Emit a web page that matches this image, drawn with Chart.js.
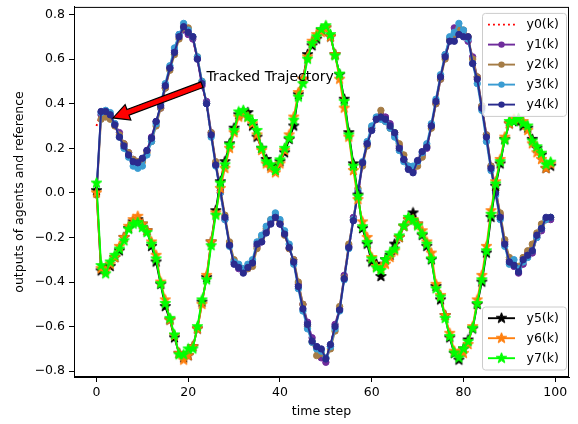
<!DOCTYPE html>
<html>
<head>
<meta charset="utf-8">
<script src="https://cdn.jsdelivr.net/npm/chart.js@4.4.1/dist/chart.umd.min.js"></script>
<style>
  html, body { margin: 0; padding: 0; background: #fff; }
  canvas { display: block; }
</style>
</head>
<body>
<canvas id="outputs" width="578" height="424"></canvas>
<script>
// time steps k = 0..99
const steps = Array.from({ length: 100 }, (_, k) => k);

// reference trajectory
const y0 = [
  0.30, 0.36, 0.36, 0.34, 0.30, 0.25, 0.21, 0.17, 0.14, 0.13, 0.15, 0.19, 0.24, 0.31, 0.39, 0.48, 0.56, 0.64, 0.70, 0.75, 0.73, 0.69, 0.60, 0.49, 0.39, 0.26, 0.13, 0.01,
  -0.11, -0.23, -0.31, -0.34, -0.35, -0.33, -0.31, -0.24, -0.21, -0.17, -0.13, -0.11, -0.13, -0.18, -0.24, -0.31, -0.42, -0.51, -0.59, -0.66, -0.70, -0.72, -0.74, -0.68, -0.60, -0.52, -0.39, -0.25, -0.12,
  0.00, 0.13, 0.22, 0.28, 0.32, 0.34, 0.33, 0.30, 0.26, 0.20, 0.15, 0.11, 0.10, 0.13, 0.17, 0.21, 0.30, 0.41, 0.52, 0.61, 0.68, 0.71, 0.73, 0.71, 0.69, 0.59, 0.50, 0.38, 0.25, 0.11,
  0.00, -0.11, -0.23, -0.31, -0.33, -0.35, -0.31, -0.28, -0.25, -0.19, -0.16, -0.12, -0.11
];

// agents of the first group
const y1 = [
  0.00, 0.35, 0.35, 0.34, 0.31, 0.27, 0.22, 0.18, 0.15, 0.13, 0.15, 0.19, 0.25, 0.32, 0.38, 0.47, 0.56, 0.64, 0.71, 0.73, 0.71, 0.69, 0.60, 0.48, 0.41, 0.27, 0.13, 0.00,
  -0.12, -0.23, -0.31, -0.34, -0.35, -0.34, -0.31, -0.24, -0.22, -0.17, -0.13, -0.10, -0.14, -0.18, -0.25, -0.30, -0.41, -0.50, -0.58, -0.65, -0.69, -0.74, -0.76, -0.69, -0.59, -0.52, -0.37, -0.24, -0.11,
  -0.01, 0.13, 0.22, 0.29, 0.33, 0.35, 0.34, 0.31, 0.26, 0.21, 0.15, 0.11, 0.10, 0.14, 0.17, 0.20, 0.30, 0.40, 0.51, 0.62, 0.69, 0.74, 0.72, 0.71, 0.68, 0.61, 0.52, 0.39, 0.26, 0.12,
  0.02, -0.10, -0.22, -0.30, -0.33, -0.36, -0.32, -0.27, -0.27, -0.20, -0.17, -0.12, -0.12
];
const y2 = [
  -0.01, 0.33, 0.34, 0.33, 0.30, 0.26, 0.22, 0.18, 0.15, 0.14, 0.14, 0.18, 0.23, 0.30, 0.38, 0.47, 0.55, 0.62, 0.69, 0.74, 0.74, 0.70, 0.61, 0.50, 0.40, 0.27, 0.14, 0.02,
  -0.10, -0.22, -0.30, -0.33, -0.34, -0.34, -0.33, -0.25, -0.20, -0.16, -0.12, -0.11, -0.13, -0.19, -0.25, -0.30, -0.40, -0.50, -0.60, -0.67, -0.73, -0.72, -0.74, -0.70, -0.62, -0.51, -0.38, -0.23, -0.12,
  0.02, 0.12, 0.21, 0.29, 0.33, 0.37, 0.32, 0.29, 0.27, 0.22, 0.17, 0.12, 0.11, 0.12, 0.16, 0.21, 0.29, 0.40, 0.51, 0.60, 0.69, 0.71, 0.74, 0.73, 0.70, 0.60, 0.52, 0.39, 0.26, 0.12,
  0.01, -0.09, -0.21, -0.29, -0.32, -0.33, -0.29, -0.26, -0.23, -0.18, -0.14, -0.12, -0.11
];
const y3 = [
  0.01, 0.36, 0.37, 0.36, 0.31, 0.25, 0.20, 0.16, 0.12, 0.11, 0.12, 0.17, 0.23, 0.31, 0.40, 0.49, 0.57, 0.65, 0.71, 0.76, 0.73, 0.70, 0.61, 0.50, 0.40, 0.25, 0.12, 0.00,
  -0.12, -0.24, -0.31, -0.32, -0.34, -0.32, -0.30, -0.22, -0.19, -0.15, -0.12, -0.09, -0.12, -0.17, -0.23, -0.32, -0.43, -0.53, -0.61, -0.67, -0.70, -0.71, -0.74, -0.69, -0.61, -0.53, -0.39, -0.25, -0.12,
  0.01, 0.14, 0.23, 0.30, 0.34, 0.33, 0.32, 0.29, 0.25, 0.19, 0.14, 0.12, 0.12, 0.14, 0.18, 0.22, 0.31, 0.42, 0.53, 0.62, 0.70, 0.72, 0.76, 0.73, 0.69, 0.58, 0.49, 0.37, 0.23, 0.10,
  -0.01, -0.12, -0.24, -0.32, -0.30, -0.34, -0.31, -0.29, -0.26, -0.20, -0.16, -0.12, -0.11
];
const y4 = [
  0.00, 0.365, 0.365, 0.35, 0.305, 0.25, 0.21, 0.17, 0.14, 0.135, 0.155, 0.19, 0.245, 0.32, 0.39, 0.48, 0.56, 0.63, 0.70, 0.745, 0.72, 0.70, 0.60, 0.49, 0.40, 0.26, 0.125, 0.01,
  -0.11, -0.235, -0.32, -0.335, -0.36, -0.335, -0.315, -0.23, -0.22, -0.18, -0.14, -0.11, -0.14, -0.185, -0.245, -0.31, -0.42, -0.52, -0.59, -0.665, -0.69, -0.70, -0.745, -0.68, -0.60, -0.525, -0.385, -0.245, -0.125,
  0.00, 0.135, 0.22, 0.28, 0.33, 0.34, 0.33, 0.30, 0.27, 0.20, 0.15, 0.105, 0.09, 0.145, 0.185, 0.205, 0.30, 0.41, 0.52, 0.61, 0.68, 0.68, 0.71, 0.70, 0.70, 0.58, 0.51, 0.38, 0.25, 0.11,
  0.00, -0.11, -0.23, -0.31, -0.325, -0.355, -0.30, -0.28, -0.26, -0.19, -0.16, -0.11, -0.11
];

// agents of the second group
const y5 = [
  0.01, -0.35, -0.34, -0.33, -0.29, -0.26, -0.20, -0.16, -0.13, -0.12, -0.14, -0.17, -0.24, -0.31, -0.41, -0.51, -0.57, -0.65, -0.72, -0.74, -0.73, -0.69, -0.61, -0.49, -0.38, -0.22, -0.08,
  0.05, 0.14, 0.22, 0.29, 0.35, 0.36, 0.36, 0.30, 0.25, 0.20, 0.15, 0.12, 0.11, 0.14, 0.18, 0.24, 0.30, 0.44, 0.51, 0.62, 0.66, 0.69, 0.73, 0.74, 0.70, 0.62, 0.53, 0.42, 0.27, 0.13,
  -0.01, -0.16, -0.23, -0.31, -0.32, -0.375, -0.30, -0.28, -0.23, -0.20, -0.15, -0.12, -0.09, -0.14, -0.19, -0.24, -0.30, -0.42, -0.48, -0.55, -0.65, -0.72, -0.75, -0.70, -0.66, -0.61, -0.50, -0.40, -0.27, -0.11,
  0.03, 0.13, 0.24, 0.31, 0.32, 0.32, 0.30, 0.29, 0.24, 0.20, 0.17, 0.11, 0.12
];
const y6 = [
  0.00, -0.34, -0.35, -0.32, -0.29, -0.24, -0.20, -0.15, -0.12, -0.105, -0.14, -0.17, -0.22, -0.28, -0.40, -0.48, -0.57, -0.64, -0.72, -0.75, -0.73, -0.69, -0.61, -0.50, -0.37, -0.22, -0.09,
  0.02, 0.11, 0.20, 0.27, 0.34, 0.35, 0.34, 0.31, 0.26, 0.19, 0.13, 0.11, 0.09, 0.13, 0.19, 0.26, 0.34, 0.45, 0.51, 0.61, 0.68, 0.71, 0.72, 0.74, 0.70, 0.62, 0.51, 0.38, 0.25, 0.10,
  -0.03, -0.13, -0.20, -0.29, -0.33, -0.34, -0.32, -0.29, -0.26, -0.20, -0.15, -0.12, -0.12, -0.14, -0.17, -0.22, -0.27, -0.41, -0.46, -0.55, -0.63, -0.71, -0.72, -0.72, -0.68, -0.60, -0.48, -0.37, -0.24, -0.08,
  0.05, 0.15, 0.25, 0.31, 0.33, 0.33, 0.32, 0.28, 0.22, 0.18, 0.15, 0.11, 0.13
];
const y7 = [
  0.044, -0.326, -0.363, -0.31, -0.28, -0.252, -0.215, -0.163, -0.14, -0.133, -0.155, -0.178, -0.23, -0.296, -0.407, -0.496, -0.563, -0.637, -0.726, -0.726, -0.70, -0.70, -0.60, -0.48, -0.39, -0.237, -0.10,
  0.044, 0.126, 0.215, 0.28, 0.363, 0.37, 0.34, 0.32, 0.28, 0.20, 0.14, 0.126, 0.10, 0.148, 0.20, 0.245, 0.326, 0.43, 0.49, 0.60, 0.67, 0.70, 0.733, 0.75, 0.71, 0.615, 0.533, 0.41, 0.26, 0.12,
  -0.015, -0.152, -0.222, -0.296, -0.336, -0.348, -0.30, -0.27, -0.252, -0.193, -0.148, -0.11, -0.123, -0.148, -0.185, -0.23, -0.296, -0.43, -0.467, -0.563, -0.644, -0.718, -0.74, -0.70, -0.667, -0.607, -0.496, -0.39, -0.26, -0.096,
  0.04, 0.14, 0.237, 0.32, 0.32, 0.333, 0.31, 0.30, 0.233, 0.207, 0.178, 0.126, 0.138
];

const xTicks = [0, 20, 40, 60, 80, 100];
const yTicks = [-0.8, -0.6, -0.4, -0.2, 0.0, 0.2, 0.4, 0.6, 0.8];
const seriesNames = ['y0(k)', 'y1(k)', 'y2(k)', 'y3(k)', 'y4(k)', 'y5(k)', 'y6(k)', 'y7(k)'];
const annotationText = 'Tracked Trajectory';

const FONT = "'DejaVu Sans', sans-serif";
const colors = ['#ff0000', '#6f2c9c', '#a57c46', '#3a9cd2', '#2a2b8e', '#000000', '#ff7f0e', '#00ff00'];

// filled five-point star marker, like matplotlib's '*'
function starMarker(color) {
  const c = document.createElement('canvas');
  c.width = 13; c.height = 13;
  const g = c.getContext('2d');
  const R = 5.6, r = 2.3;
  g.beginPath();
  for (let i = 0; i < 10; i++) {
    const a = -Math.PI / 2 + i * Math.PI / 5;
    const rad = i % 2 === 0 ? R : r;
    const px = 6.5 + rad * Math.cos(a), py = 6.5 + rad * Math.sin(a);
    if (i === 0) g.moveTo(px, py); else g.lineTo(px, py);
  }
  g.closePath();
  g.fillStyle = color;
  g.fill();
  g.lineWidth = 1;
  g.strokeStyle = color;
  g.stroke();
  return c;
}

const allSeries = [y0, y1, y2, y3, y4, y5, y6, y7];
const stars = {};
[5, 6, 7].forEach(i => { stars[i] = starMarker(colors[i]); });

const datasets = allSeries.map((vals, i) => {
  const ds = {
    label: seriesNames[i],
    data: vals.map((v, k) => ({ x: steps[k], y: v })),
    borderColor: colors[i],
    backgroundColor: colors[i],
    borderWidth: 1.9,
    borderJoinStyle: 'round',
    tension: 0,
    order: allSeries.length - i
  };
  if (i === 0) {
    ds.borderDash = [1.9, 3.1];
    ds.borderCapStyle = 'butt';
    ds.pointRadius = 0;
  } else if (i <= 4) {
    ds.pointStyle = 'circle';
    ds.pointRadius = 3.2;
    ds.pointBorderWidth = 1;
    ds.pointBackgroundColor = colors[i];
    ds.pointBorderColor = colors[i];
  } else {
    ds.pointStyle = stars[i];
    ds.pointRadius = 5;
  }
  return ds;
});

// upper and lower legend boxes, frame and arrow annotation
const decorations = {
  id: 'decorations',
  afterDatasetsDraw(chart) {
    const { ctx, chartArea: a, scales: { x, y } } = chart;
    ctx.save();

    // full frame (top and right spines too)
    ctx.strokeStyle = '#000';
    ctx.lineWidth = 1;
    ctx.strokeRect(a.left + 0.5, a.top + 0.5, a.right - a.left - 1, a.bottom - a.top - 1);

    // annotation arrow
    const tipX = x.getPixelForValue(3.6), tipY = y.getPixelForValue(0.336);
    const tailX = x.getPixelForValue(23.0), tailY = y.getPixelForValue(0.485);
    const dx = tipX - tailX, dy = tipY - tailY;
    const len = Math.hypot(dx, dy);
    const ux = dx / len, uy = dy / len, nx = -uy, ny = ux;
    const w = 3.0, hw = 8.2, hl = 16;
    const bx = tipX - ux * hl, by = tipY - uy * hl;
    ctx.beginPath();
    ctx.moveTo(tailX + nx * w, tailY + ny * w);
    ctx.lineTo(bx + nx * w, by + ny * w);
    ctx.lineTo(bx + nx * hw, by + ny * hw);
    ctx.lineTo(tipX, tipY);
    ctx.lineTo(bx - nx * hw, by - ny * hw);
    ctx.lineTo(bx - nx * w, by - ny * w);
    ctx.lineTo(tailX - nx * w, tailY - ny * w);
    ctx.closePath();
    ctx.fillStyle = '#ff0000';
    ctx.fill();
    ctx.strokeStyle = '#000';
    ctx.lineWidth = 1.2;
    ctx.lineJoin = 'miter';
    ctx.stroke();

    ctx.fillStyle = '#000';
    ctx.font = '14px ' + FONT;
    ctx.textAlign = 'left';
    ctx.textBaseline = 'middle';
    ctx.fillText(annotationText, x.getPixelForValue(24.0), y.getPixelForValue(0.52));

    // legends
    const drawLegend = (idx, top) => {
      const left = a.right - 86.5, right = a.right - 2.5;
      const rowH = 20;
      const h = idx.length * rowH + 3;
      ctx.beginPath();
      ctx.roundRect(left, top, right - left, h, 3);
      ctx.fillStyle = 'rgba(255,255,255,0.8)';
      ctx.fill();
      ctx.strokeStyle = '#cccccc';
      ctx.lineWidth = 1;
      ctx.stroke();
      idx.forEach((i, r) => {
        const cy = top + 11.2 + r * rowH;
        const x0 = left + 5.5, x1 = left + 32.5, xm = (x0 + x1) / 2;
        ctx.save();
        ctx.strokeStyle = colors[i];
        ctx.lineWidth = 1.9;
        if (i === 0) { ctx.setLineDash([1.9, 3.1]); ctx.lineCap = 'butt'; }
        ctx.beginPath();
        ctx.moveTo(x0, cy);
        ctx.lineTo(x1, cy);
        ctx.stroke();
        ctx.restore();
        if (i >= 1 && i <= 4) {
          ctx.beginPath();
          ctx.arc(xm, cy, 3.2, 0, Math.PI * 2);
          ctx.fillStyle = colors[i];
          ctx.fill();
        } else if (i >= 5) {
          ctx.drawImage(stars[i], xm - 6.5, cy - 6.5);
        }
        ctx.fillStyle = '#000';
        ctx.font = '12.5px ' + FONT;
        ctx.textAlign = 'left';
        ctx.textBaseline = 'middle';
        ctx.fillText(seriesNames[i], left + 44, cy + 0.5);
      });
    };
    drawLegend([0, 1, 2, 3, 4], a.top + 6.5);
    drawLegend([5, 6, 7], a.bottom - 70);

    ctx.restore();
  }
};

const fmt = v => {
  const s = Number(v).toFixed(1);
  return s.startsWith('-') ? '\u2212' + s.slice(1) : s;
};

new Chart(document.getElementById('outputs').getContext('2d'), {
  type: 'line',
  data: { datasets },
  options: {
    responsive: false,
    animation: false,
    devicePixelRatio: 1,
    events: [],
    layout: { padding: { top: 4, right: 9, bottom: 0, left: 0 } },
    plugins: { legend: { display: false }, tooltip: { enabled: false } },
    scales: {
      x: {
        type: 'linear',
        min: -4.9,
        max: 103,
        afterBuildTicks: s => { s.ticks = xTicks.map(v => ({ value: v })); },
        afterFit: s => { s.height = 47; s.paddingLeft = 0; s.paddingRight = 0; },
        ticks: { color: '#000', font: { family: FONT, size: 12.5 }, padding: 3, maxRotation: 0,
                 callback: v => String(v) },
        grid: { drawOnChartArea: false, drawTicks: true, tickLength: 5, tickColor: '#000', tickWidth: 1 },
        border: { display: true, color: '#000', width: 1 },
        title: { display: true, text: 'time step', color: '#000', font: { family: FONT, size: 12.5 },
                 padding: { top: 0, bottom: 5 } }
      },
      y: {
        type: 'linear',
        min: -0.826,
        max: 0.834,
        afterBuildTicks: s => { s.ticks = yTicks.map(v => ({ value: v })); },
        afterFit: s => { s.width = 74; s.paddingTop = 0; s.paddingBottom = 0; },
        ticks: { color: '#000', font: { family: FONT, size: 12.5 }, padding: 4, callback: fmt },
        grid: { drawOnChartArea: false, drawTicks: true, tickLength: 5, tickColor: '#000', tickWidth: 1 },
        border: { display: true, color: '#000', width: 1 },
        title: { display: true, text: 'outputs of agents and reference', color: '#000',
                 font: { family: FONT, size: 12.5 }, padding: { top: 12, bottom: 0 } }
      }
    }
  },
  plugins: [decorations]
});
</script>
</body>
</html>
